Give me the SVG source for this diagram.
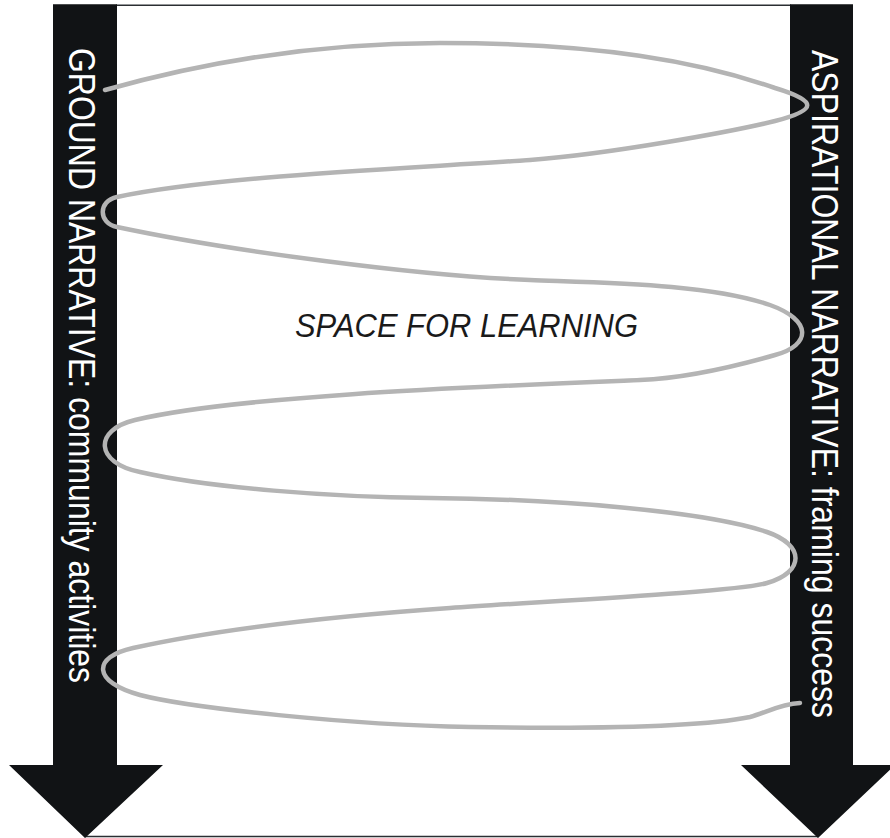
<svg xmlns="http://www.w3.org/2000/svg" width="890" height="838" viewBox="0 0 890 838">
  <style>
    .arrow { fill: #111315; }
    .rule { stroke: #2b2e32; stroke-width: 1.6; fill: none; }
    .band-label { font-family: "Liberation Sans", Arial, sans-serif; font-size: 37px; fill: #ffffff; }
    .centre-label { font-family: "Liberation Sans", Arial, sans-serif; font-size: 32.5px; font-style: italic; fill: #1a1a1a; }
    .spiral { fill: none; stroke: #b4b4b4; stroke-width: 4.5; stroke-linecap: round; stroke-linejoin: round; }
  </style>

  <rect width="890" height="838" fill="#ffffff"/>

  <!-- frame lines joining the two arrows -->
  <line class="rule" x1="116" y1="5.2" x2="791" y2="5.2"/>
  <line class="rule" x1="85" y1="836.5" x2="818" y2="836.5" stroke-width="2" stroke="#3a3f45"/>

  <!-- left arrow: ground narrative -->
  <g id="ground-narrative">
    <polygon class="arrow" points="53,4.3 117,4.3 117,765 163,765 85,838 9,765 53,765"/>
    <text class="band-label" transform="translate(69,48) rotate(90)" textLength="635" lengthAdjust="spacingAndGlyphs">GROUND NARRATIVE: community activities</text>
  </g>

  <!-- right arrow: aspirational narrative -->
  <g id="aspirational-narrative">
    <polygon class="arrow" points="790,4.3 853,4.3 853,765 895,765 818,838 741,765 790,765"/>
    <text class="band-label" transform="translate(812,50) rotate(90)" textLength="668" lengthAdjust="spacingAndGlyphs">ASPIRATIONAL NARRATIVE: framing success</text>
  </g>

  <!-- centre label -->
  <g id="space-for-learning">
    <text class="centre-label" x="295" y="337" textLength="343" lengthAdjust="spacingAndGlyphs">SPACE FOR LEARNING</text>
  </g>

  <!-- hand-drawn spiral weaving between the two narratives -->
  <g id="connectors">
    <path class="spiral" d="M105,90
      C215,59 330,43 440,43
      C600,43 700,62 775,88
      C818,101 818,110 775,121
      C735,131 610,154 530,160
      C400,169 217,176 117,197
      C98,201 98,223 117,227
      C230,251 420,276 530,280
      C610,283 710,284 770,305
      C812,320 812,345 775,355
      C740,365 690,378 640,380
      C470,387 235,396 135,420
      C93,430 95,463 140,472
      C210,488 330,497 430,498
      C560,499 707,511.5 767,532
      C805,545 805,572 767,583
      C735,592 550,601 450,608
      C350,615 233,626 133,648
      C92,657 92,682 140,695
      C190,708 350,725 470,727
      C590,729 700,727 750,717
      C765,713 780,704 800,703"/>
  </g>
</svg>
